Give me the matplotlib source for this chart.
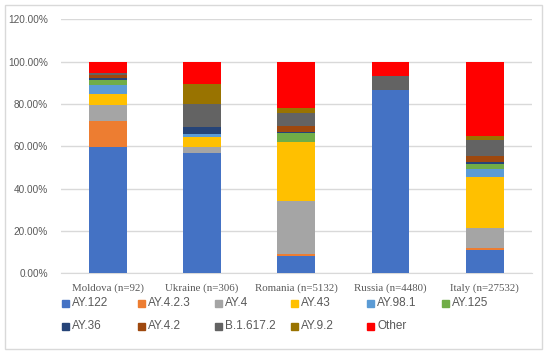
import matplotlib.pyplot as plt
from matplotlib.patches import Rectangle
import numpy as np

countries = ['Moldova (n=92)', 'Ukraine (n=306)', 'Romania (n=5132)',
             'Russia (n=4480)', 'Italy (n=27532)']
lineages = ['AY.122', 'AY.4.2.3', 'AY.4', 'AY.43', 'AY.98.1', 'AY.125',
            'AY.36', 'AY.4.2', 'B.1.617.2', 'AY.9.2', 'Other']
colors = ['#4472C4', '#ED7D31', '#A5A5A5', '#FFC000', '#5B9BD5', '#70AD47',
          '#264478', '#9E480E', '#636363', '#997300', '#FF0000']

# percentages per lineage, order: Moldova, Ukraine, Romania, Russia, Italy
ay122 = [59.8, 56.9, 8.2, 86.5, 10.9]
ay423 = [12.0, 0.0, 1.1, 0.0, 1.1]
ay4 = [7.6, 2.8, 24.7, 0.0, 9.4]
ay43 = [5.4, 4.6, 28.1, 0.0, 24.3]
ay981 = [4.3, 1.3, 0.0, 0.0, 3.6]
ay125 = [2.2, 0.0, 4.4, 0.0, 2.4]
ay36 = [1.1, 3.4, 0.3, 0.0, 0.9]
ay42 = [1.1, 0.0, 2.9, 0.0, 3.0]
b16172 = [1.1, 11.1, 6.0, 6.5, 7.6]
ay92 = [0.0, 9.1, 2.5, 0.0, 1.9]
other = [5.4, 10.8, 21.8, 7.0, 34.9]

series = [ay122, ay423, ay4, ay43, ay981, ay125, ay36, ay42, b16172, ay92, other]

fig = plt.figure(figsize=(5.5, 3.53), dpi=100)
# chart frame
fig.patches.append(Rectangle((5 / 550, 4 / 353), 537 / 550, 344 / 353,
                             transform=fig.transFigure, fill=False,
                             edgecolor='#D9D9D9', linewidth=1))
ax = fig.add_axes([60.5 / 550, 79.7 / 353, 471.5 / 550, 254 / 353])

x = np.arange(len(countries))
bottom = np.zeros(len(countries))
for vals, c in zip(series, colors):
    vals = np.array(vals)
    ax.bar(x, vals, width=0.40, bottom=bottom, color=c, zorder=3)
    bottom += vals

ax.set_xlim(-0.5, 4.5)
ax.set_ylim(0, 120)
ax.set_yticks(np.arange(0, 121, 20))
ax.set_yticklabels(['%.2f%%' % v for v in np.arange(0, 121, 20)],
                   family='Liberation Sans', fontsize=7.2)
ax.set_xticks(x)
ax.set_xticklabels(countries, family='Liberation Serif', fontsize=7.8)
ax.tick_params(axis='both', length=0, colors='#595959')
ax.tick_params(axis='y', pad=9)
ax.tick_params(axis='x', pad=7)
ax.grid(axis='y', color='#D9D9D9', linewidth=1, zorder=0)
for s in ['top', 'right', 'left']:
    ax.spines[s].set_visible(False)
ax.spines['bottom'].set_color('#D9D9D9')

# legend, two rows of six slots
slot_x = [62, 138, 215, 291, 367, 442]
row_y = [303.5, 326]
for i, (lab, c) in enumerate(zip(lineages, colors)):
    r, k = divmod(i, 6)
    px = slot_x[k]
    py = row_y[r]
    fig.patches.append(Rectangle((px / 550, (353 - py - 3.5) / 353), 7 / 550, 7 / 353,
                                 transform=fig.transFigure, color=c))
    fig.text((px + 10) / 550, (353 - py) / 353, lab, fontsize=8.5,
             family='Liberation Sans', color='#595959', va='center')

fig.savefig('out.png', dpi=100)
